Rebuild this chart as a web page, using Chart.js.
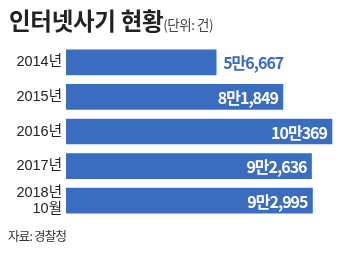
<!DOCTYPE html>
<html>
<head>
<meta charset="utf-8">
<script src="https://cdn.jsdelivr.net/npm/chart.js@4"></script>
<style>
  html, body { margin: 0; padding: 0; background: #fff; }
  #wrap { position: relative; width: 339px; height: 256px; overflow: hidden; }
  #chart { position: absolute; left: 0; top: 0; }
  .title { position: absolute; left: 9px; top: 3px; font-family: 'Noto Sans CJK KR', sans-serif; font-weight: 700; font-size: 23.5px; letter-spacing: -0.3px; color: #222; white-space: nowrap; }
  .unit { font-size: 13.5px; font-weight: 400; color: #444; letter-spacing: -0.5px; }
  .source { position: absolute; left: 8px; top: 226px; font-family: 'Noto Sans CJK KR', sans-serif; font-size: 12.5px; color: #333; letter-spacing: -0.8px; }
</style>
</head>
<body>
<div id="wrap">
  <canvas id="chart" width="339" height="256"></canvas>
  <div class="title">인터넷사기 현황<span class="unit">(단위: 건)</span></div>
  <div class="source">자료: 경찰청</div>
</div>
<script>
// Data
const years = [['2014년'], ['2015년'], ['2016년'], ['2017년'], ['2018년', '10월']];
const cases = [56667, 81849, 100369, 92636, 92995];
const caseLabels = ['5만6,667', '8만1,849', '10만369', '9만2,636', '9만2,995'];

const barBlue = '#3a6cc0';

// Draw the value text on or next to each bar
const valueLabels = {
    id: 'valueLabels',
    afterDatasetsDraw(chart) {
        const ctx = chart.ctx;
        const meta = chart.getDatasetMeta(0);
        ctx.save();
        ctx.font = '700 16px "Noto Sans CJK KR", sans-serif';
        ctx.letterSpacing = '-1px';
        ctx.textBaseline = 'middle';
        meta.data.forEach((bar, i) => {
            const txt = caseLabels[i];
            // first bar is short, so its label goes outside
            if (i === 0) {
                ctx.fillStyle = barBlue;
                ctx.textAlign = 'left';
                ctx.fillText(txt, bar.x + 7, bar.y + 1);
            } else {
                ctx.fillStyle = '#fff';
                ctx.textAlign = 'right';
                ctx.fillText(txt, bar.x - 5, bar.y + 1);
            }
        });
        ctx.restore();
    }
};

new Chart(document.getElementById('chart'), {
    type: 'bar',
    data: {
        labels: years,
        datasets: [{
            data: cases,
            backgroundColor: barBlue,
            barThickness: 25
        }]
    },
    options: {
        indexAxis: 'y',
        responsive: false,
        animation: false,
        layout: { padding: { left: 0, right: 4, top: 45, bottom: 38 } },
        plugins: {
            legend: { display: false },
            tooltip: { enabled: false }
        },
        scales: {
            x: {
                display: false,
                min: 0,
                max: 101500
            },
            y: {
                grid: { display: false, drawTicks: false },
                border: { display: false },
                afterFit(scale) { scale.width = 66; },
                ticks: {
                    autoSkip: false,
                    padding: 4,
                    color: '#222',
                    font: { family: '"Liberation Sans", "Noto Sans CJK KR", sans-serif', size: 14.5, lineHeight: 1.1 }
                }
            }
        }
    },
    plugins: [valueLabels]
});
</script>
</body>
</html>
